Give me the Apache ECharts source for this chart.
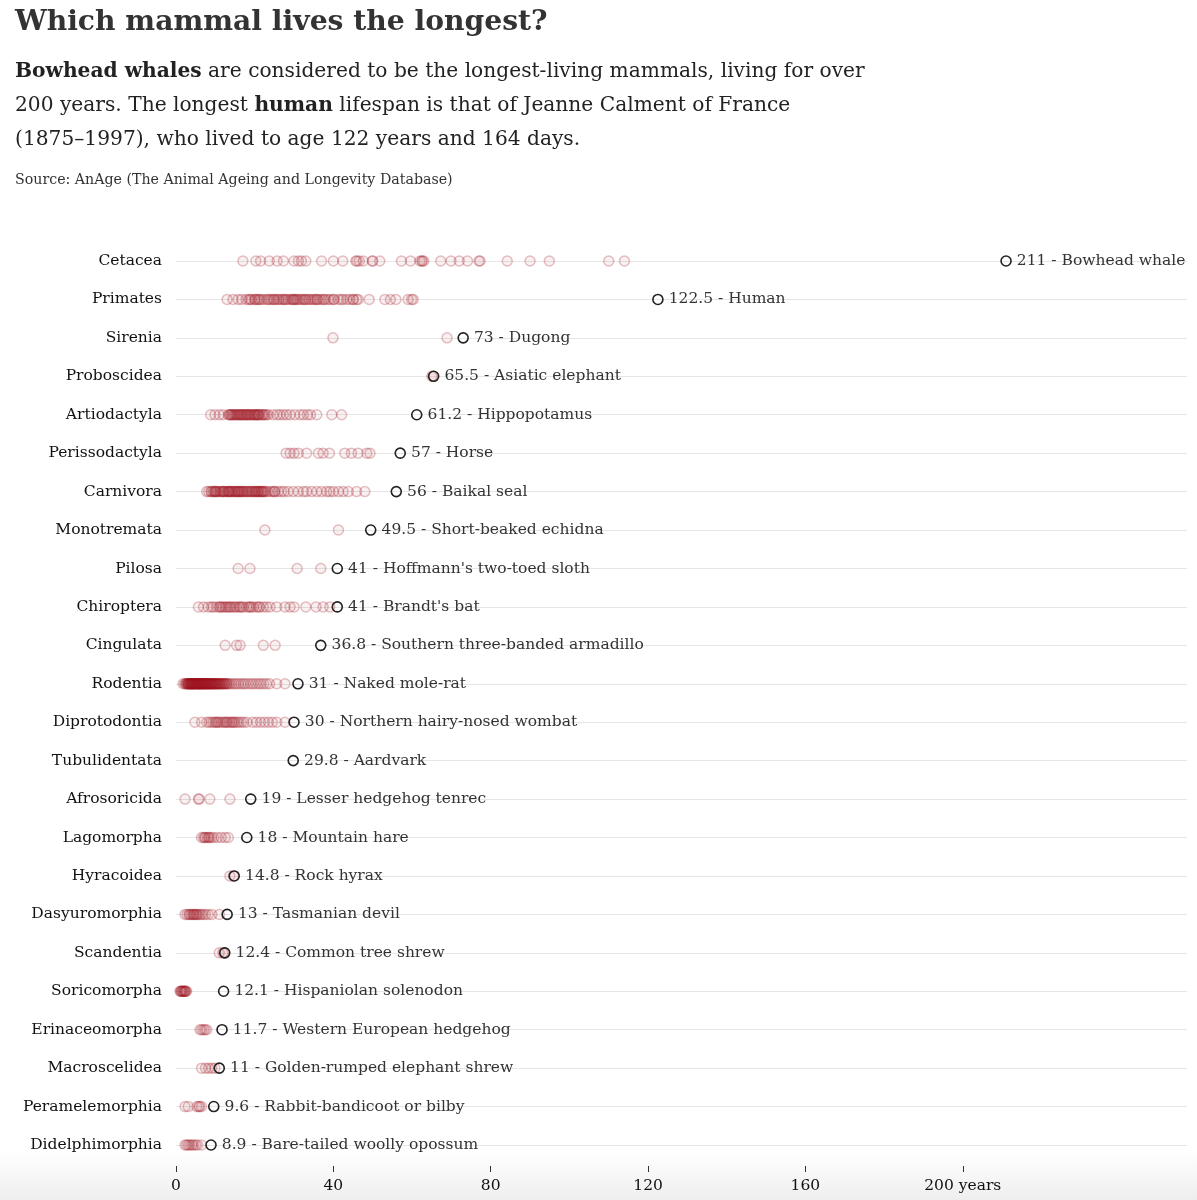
<!DOCTYPE html>
<html>
<head>
<meta charset="utf-8">
<script src="https://cdn.jsdelivr.net/npm/echarts@6/dist/echarts.min.js"></script>
<style>
html,body{margin:0;padding:0;background:#fff;}
#chart{width:1197px;height:1200px;}
</style>
</head>
<body>
<div id="chart"></div>
<script>
const orders = ['Cetacea','Primates','Sirenia','Proboscidea','Artiodactyla','Perissodactyla','Carnivora','Monotremata','Pilosa','Chiroptera','Cingulata','Rodentia','Diprotodontia','Tubulidentata','Afrosoricida','Lagomorpha','Hyracoidea','Dasyuromorphia','Scandentia','Soricomorpha','Erinaceomorpha','Macroscelidea','Peramelemorphia','Didelphimorphia'];
const maxValues = [211,122.5,73,65.5,61.2,57,56,49.5,41,41,36.8,31,30,29.8,19,18,14.8,13,12.4,12.1,11.7,11,9.6,8.9];
const maxNames = ['Bowhead whale','Human','Dugong','Asiatic elephant','Hippopotamus','Horse','Baikal seal','Short-beaked echidna',"Hoffmann's two-toed sloth","Brandt's bat",'Southern three-banded armadillo','Naked mole-rat','Northern hairy-nosed wombat','Aardvark','Lesser hedgehog tenrec','Mountain hare','Rock hyrax','Tasmanian devil','Common tree shrew','Hispaniolan solenodon','Western European hedgehog','Golden-rumped elephant shrew','Rabbit-bandicoot or bilby','Bare-tailed woolly opossum'];
const xTicks = [0,40,80,120,160,200];

const cetacea = [17,20.3,21.5,23.7,25.7,27.3,30,31.1,31.9,33,37,40,42.4,45.7,46,46.6,47.6,49.9,50,51.8,57.3,59.6,62,62.5,62.6,63,67.3,69.9,72,74.1,77,77.3,84.2,90,94.9,110,114];
const primates = [13,14.5,15.8,16.7,17.8,18.5,18.8,19.2,20,20.1,20.6,21,21.3,21.8,22.4,23.1,23.5,23.9,24.4,24.9,25,25.6,26,26.4,27,27.3,27.7,28,28.5,29.1,29.5,29.8,30,30.3,30.7,31,31.5,32,32.4,32.8,33,33.6,34,34.5,35,35.4,35.8,36,36.6,37.2,37.6,38,38.7,39.3,40,40.2,41.3,42,42.5,43.4,44.2,45,45.1,45.9,46.3,49.1,53.1,54.5,55.9,59,59.9,60.3];
const sirenia = [39.9,68.9];
const proboscidea = [65,65.3];
const artiodactyla = [8.8,9.9,11,12,13.3,13.5,13.8,14,14.2,14.5,14.8,15,15.3,15.5,15.8,16,16.3,16.5,16.7,17,17.2,17.5,17.8,18,18.2,18.4,18.7,19,19.2,19.5,19.8,20,20.1,20.5,20.7,20.9,21,21.3,21.8,22,22.3,22.6,23,23.5,24.7,25.7,26.4,27.3,28.1,29,30.2,31.5,32.4,33.4,34.2,35.8,39.6,42.1];
const perissodactyla = [28,29,30,31.1,33.2,36.2,37.4,39,42.9,44.6,46.3,48.5,49.3];
const carnivora = [7.8,8.3,8.9,9,9.4,9.7,10,10,10.3,10.5,11,11.3,11.6,12,12,12.3,12.5,13,13.2,13.4,13.5,13.8,14,14.3,14.5,15,15,15.3,15.6,15.8,16,16.2,16.5,16.7,17,17.2,17.5,18,18,18.4,18.7,19,19.3,19.5,20,20,20.3,20.6,20.8,21,21.3,21.6,21.8,22,22.2,22.5,22.8,23.3,24,24.6,25,25.2,26,26.8,27.5,28.5,29.8,31.1,32.4,33.2,34.5,35.8,37,38.3,39.1,40,41.3,42.5,43.8,45.9,48];
const monotremata = [22.6,41.3];
const pilosa = [15.8,18.8,30.8,36.8];
const chiroptera = [5.7,7,8.2,9,9.5,10.3,11,11.2,11.6,12,12.5,12.9,13.3,13.7,14,14.6,15,15.4,16,16.3,16.7,17.1,18,18.5,18.8,19.2,19.7,20.5,21,21.3,22.2,23,23.9,25.6,27.7,29,30,33,35.6,37.4,39.1];
const cingulata = [12.5,15.4,16.3,22.2,25.2];
const rodentia = [1.8,2.2,2.5,2.6,2.8,3,3,3.1,3.2,3.3,3.5,3.5,3.6,3.7,3.8,4,4,4,4.1,4.2,4.3,4.5,4.5,4.6,4.7,4.8,5,5,5,5.2,5.3,5.4,5.5,5.5,5.7,5.8,5.9,6,6,6,6.2,6.3,6.4,6.5,6.5,6.7,6.8,6.9,7,7,7.1,7.2,7.3,7.5,7.5,7.6,7.8,7.9,8,8,8.2,8.3,8.4,8.5,8.6,8.7,8.9,9,9,9.2,9.3,9.4,9.6,9.7,9.8,10,10,10.2,10.4,10.5,10.6,10.8,11,11.1,11.2,11.5,11.6,11.8,12,12.2,12.3,12.6,12.8,13,13.3,13.7,14.2,14.8,15.3,15.9,16.5,17.1,17.6,18.3,19,19.6,20.3,21,21.6,22.3,23,23.8,25.6,27.7];
const diprotodontia = [4.8,6.5,7.8,8.4,9,9.5,10,10.3,10.6,11,11.5,12,12.4,12.8,13,13.5,14,14.3,14.6,15,15.5,16,16.6,17.2,18,19.5,20.5,21.5,22.5,23.5,24.5,25.6,27.7];
const tubulidentata = [];
const afrosoricida = [2.3,5.7,5.9,8.6,13.7];
const lagomorpha = [6.5,7,7.3,7.5,8,8.3,8.5,9,9.6,10.5,11.5,12.5,13.3];
const hyracoidea = [13.7,14.6];
const dasyuromorphia = [2.3,2.8,3.3,3.5,3.8,4.2,4.5,4.6,5,5.3,5.5,6,6.4,6.9,7.5,8.2,9.1,11];
const scandentia = [11,11.9,12.2];
const soricomorpha = [1,1.2,1.3,1.5,1.6,1.8,2,2.1,2.2,2.4,2.5,2.7];
const erinaceomorpha = [6.1,6.5,7,7.4,7.8];
const macroscelidea = [6.5,7.5,8.3,9.1,9.9];
const peramelemorphia = [2.3,3.1,5.3,5.8,6,6.5];
const didelphimorphia = [2.3,2.7,3.1,3.5,4,4.4,5,5.5,6.5];

const speciesByOrder = [cetacea,primates,sirenia,proboscidea,artiodactyla,perissodactyla,carnivora,monotremata,pilosa,chiroptera,cingulata,rodentia,diprotodontia,tubulidentata,afrosoricida,lagomorpha,hyracoidea,dasyuromorphia,scandentia,soricomorpha,erinaceomorpha,macroscelidea,peramelemorphia,didelphimorphia];

const dotData = [];
speciesByOrder.forEach((arr, i) => arr.forEach(v => dotData.push([v, orders[i]])));
const maxData = orders.map((o, i) => ({ value: [maxValues[i], o], name: maxNames[i] }));

const FONT = 'DejaVu Serif';
const chart = echarts.init(document.getElementById('chart'));
chart.setOption({
  animation: false,
  backgroundColor: '#fff',
  textStyle: { fontFamily: FONT },
  title: [
    { text: 'Which mammal lives the longest?', left: 10, top: 4,
      textStyle: { fontFamily: FONT, fontWeight: 'bold', fontSize: 28.2, color: '#333' } },
    { text: '{b|Bowhead whales} are considered to be the longest-living mammals, living for over\n200 years. The longest {b|human} lifespan is that of Jeanne Calment of France\n(1875–1997), who lived to age 122 years and 164 days.',
      left: 10, top: 50,
      textStyle: { fontFamily: FONT, fontSize: 20.2, fontWeight: 'normal', color: '#222', lineHeight: 34,
        rich: { b: { fontFamily: FONT, fontSize: 20.2, fontWeight: 'bold', color: '#222', lineHeight: 34 } } } },
    { text: 'Source: AnAge (The Animal Ageing and Longevity Database)', left: 10, top: 168,
      textStyle: { fontFamily: FONT, fontSize: 14.2, fontWeight: 'normal', color: '#333' } }
  ],
  graphic: [
    { type: 'rect', z: -10, silent: true, shape: { x: 0, y: 1150, width: 1197, height: 50 },
      style: { fill: new echarts.graphic.LinearGradient(0, 0, 0, 1, [
        { offset: 0, color: 'rgba(240,240,240,0)' }, { offset: 1, color: 'rgba(238,238,238,1)' }]) } }
  ],
  grid: { left: 176, right: 10, top: 261, bottom: 55, containLabel: false },
  xAxis: {
    type: 'value', min: 0, max: 257, offset: 21,
    axisLine: { show: false },
    splitLine: { show: false },
    axisTick: { show: true, length: 6, customValues: xTicks, lineStyle: { color: '#333', width: 1 } },
    axisLabel: { customValues: xTicks, margin: 12, fontFamily: FONT, fontSize: 15.5, color: '#111',
      formatter: v => v === 200 ? '200 years' : String(v) }
  },
  yAxis: {
    type: 'category', data: orders, inverse: true, boundaryGap: false,
    axisLine: { show: false }, axisTick: { show: false },
    axisLabel: { margin: 14, fontFamily: FONT, fontSize: 15.5, color: '#111' },
    splitLine: { show: true, lineStyle: { color: '#e6e6e6', width: 1 } }
  },
  series: [
    { type: 'scatter', data: dotData, symbol: 'circle', symbolSize: 10, z: 2,
      itemStyle: { color: 'rgba(175,40,50,0.09)', borderColor: 'rgba(160,20,30,0.32)', borderWidth: 1.5 },
      emphasis: { disabled: true } },
    { type: 'scatter', data: maxData, symbol: 'circle', symbolSize: 10, z: 5,
      itemStyle: { color: 'rgba(255,255,255,0)', borderColor: '#222', borderWidth: 1.6, opacity: 1 },
      label: { show: true, position: 'right', distance: 5, fontFamily: FONT, fontSize: 15.5, color: '#333',
        formatter: p => p.value[0] + ' - ' + p.name },
      emphasis: { disabled: true } }
  ]
});
</script>
</body>
</html>
